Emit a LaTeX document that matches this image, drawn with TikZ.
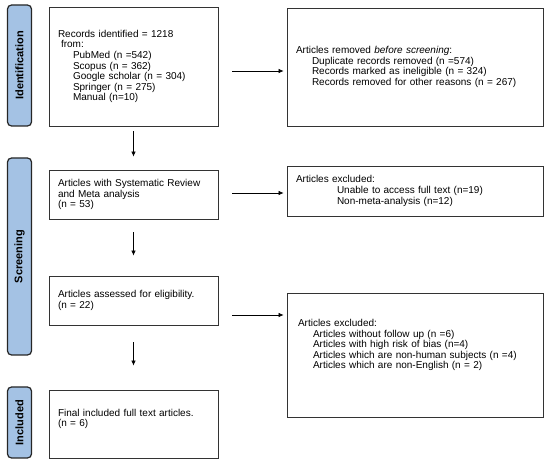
\documentclass[tikz,border=0pt]{standalone}
\usepackage{fontspec}
\setmainfont{Liberation Sans}
\usetikzlibrary{arrows.meta}
\definecolor{phaseblue}{RGB}{164,194,228}
\newcommand\ind[1]{\hspace*{#1pt}}

\begin{document}
\begin{tikzpicture}[x=1pt,y=-1pt,
  phase/.style={rotate=90,draw=black!85,line width=1.2pt,fill=phaseblue,
    rounded corners=4pt,minimum height=24pt,inner sep=0pt,
    font=\fontsize{11}{12}\selectfont\bfseries},
  lbox/.style={draw=black!80,line width=0.9pt,align=left,inner xsep=9pt,
    text width=151pt,font=\fontsize{10}{10.6}\selectfont},
  rbox/.style={lbox,text width=238pt},
  arr/.style={-{Latex[length=5pt,width=4.5pt]},line width=0.6pt}]
\useasboundingbox (0,0) rectangle (550,468);

\node[phase,minimum width=121pt] (ident) at (19.5,65.5) {Identification};
\node[phase,minimum width=197pt] (screen) at (19.5,256.5) {Screening};
\node[phase,minimum width=71pt] (incl) at (19.5,422.5) {Included};

\node[lbox,minimum height=119pt] (recs) at (133.5,66.5)
 {Records identified = 1218\\ \ind{3}from:\\ \ind{15}PubMed (n =542)\\
  \ind{15}Scopus (n = 362)\\ \ind{15}Google scholar (n = 304)\\
  \ind{15}Springer (n = 275)\\ \ind{15}Manual (n=10)};
\node[lbox,minimum height=49pt] (sysrev) at (133.5,194.5)
 {Articles with Systematic Review\\ and Meta analysis\\ (n = 53)};
\node[lbox,minimum height=49pt] (elig) at (133.5,300.5)
 {Articles assessed for eligibility.\\ (n = 22)};
\node[lbox,minimum height=68pt] (final) at (133.5,424)
 {Final included full text articles.\\ (n = 6)\rule[-12pt]{0pt}{0pt}};

\node[rbox,minimum height=118pt] (removed) at (415,67)
 {Articles removed \textit{before screening}:\\
  \ind{16}Duplicate records removed (n =574)\\
  \ind{16}Records marked as ineligible (n = 324)\\
  \ind{16}Records removed for other reasons (n = 267)};
\node[rbox,minimum height=50pt] (excla) at (415,191)
 {Articles excluded:\\ \ind{41}Unable to access full text (n=19)\\
  \ind{41}Non-meta-analysis (n=12)};
\node[rbox,minimum height=124pt] (exclb) at (415,355)
 {\ind{2}Articles excluded:\\ \ind{17}Articles without follow up (n =6)\\
  \ind{17}Articles with high risk of bias (n=4)\\
  \ind{17}Articles which are non-human subjects (n =4)\\
  \ind{17}Articles which are non-English (n = 2)\rule[-22pt]{0pt}{0pt}};

\draw[arr,shorten <=5pt,shorten >=13pt] (recs) -- (sysrev);
\draw[arr,shorten <=13pt,shorten >=20pt] (sysrev) -- (elig);
\draw[arr,shorten <=17pt,shorten >=24pt] (elig) -- (final);

\draw[arr,shorten <=14pt,shorten >=3pt] ([yshift=-4.5pt]recs.east)
  -- ([yshift=-4.5pt]recs.east -| removed.west);
\draw[arr,shorten <=14pt,shorten >=3pt] ([yshift=1.5pt]sysrev.east)
  -- ([yshift=1.5pt]sysrev.east -| excla.west);
\draw[arr,shorten <=14pt,shorten >=3pt] ([yshift=-14.5pt]elig.east)
  -- ([yshift=-14.5pt]elig.east -| exclb.west);
\end{tikzpicture}
\end{document}
